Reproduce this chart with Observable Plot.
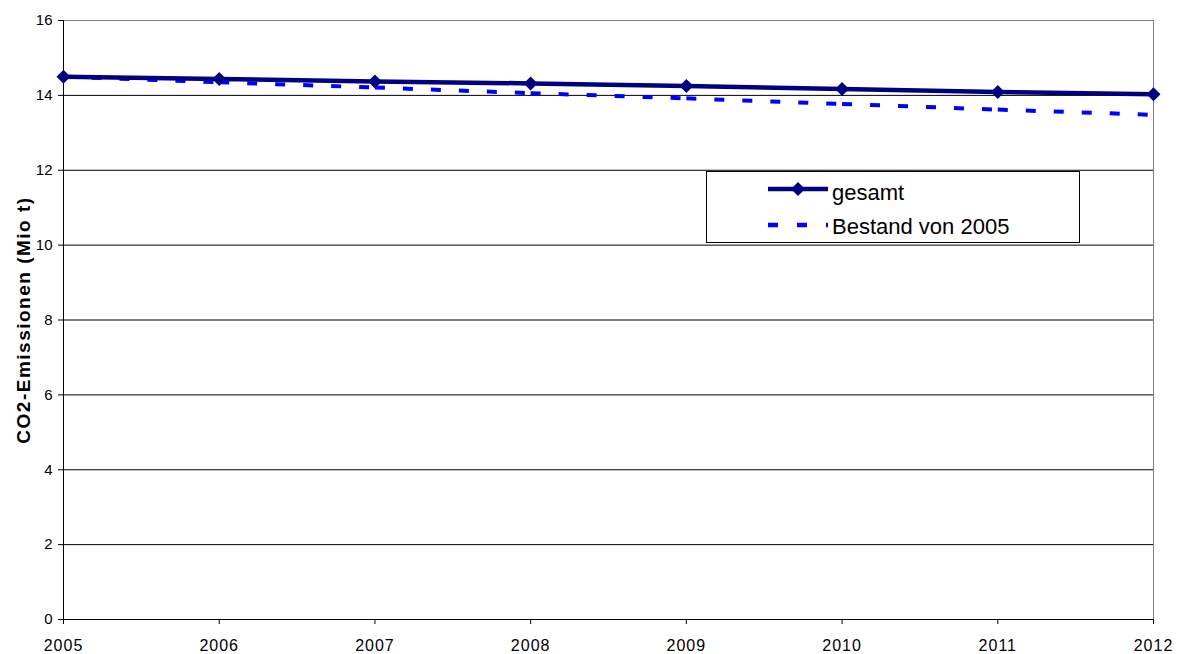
<!DOCTYPE html>
<html>
<head>
<meta charset="utf-8">
<script src="https://cdn.jsdelivr.net/npm/d3@7"></script>
<script src="https://cdn.jsdelivr.net/npm/@observablehq/plot@0.6"></script>
<style>
  html, body { margin: 0; padding: 0; background: #fff; }
  #wrap { position: relative; width: 1178px; height: 654px; }
  #legend { position: absolute; left: 0; top: 0; pointer-events: none; }
</style>
</head>
<body>
<div id="wrap"></div>
<script>
const years = [2005, 2006, 2007, 2008, 2009, 2010, 2011, 2012];
const gesamt = [14.50, 14.44, 14.37, 14.32, 14.25, 14.17, 14.09, 14.03];
const bestand = [14.50, 14.35, 14.21, 14.06, 13.92, 13.77, 13.62, 13.48];
const yTicks = [0, 2, 4, 6, 8, 10, 12, 14, 16];
const seriesNames = ["gesamt", "Bestand von 2005"];
const yLabel = "CO2-Emissionen (Mio t)";

const gesamtData = years.map((x, i) => ({x, y: gesamt[i]}));
const bestandSeg = years.slice(0, -1).map((x, i) => ({x1: x, y1: bestand[i], x2: years[i + 1], y2: bestand[i + 1]}));

const navy = "#000080";
const blue = "#0000ff";

const chart = Plot.plot({
  width: 1178,
  height: 654,
  marginLeft: 63,
  marginRight: 25,
  marginTop: 20,
  marginBottom: 35,
  style: {fontFamily: "'Liberation Sans', Arial, sans-serif", fontSize: "15px", color: "#000", background: "#fff"},
  x: {domain: [2005, 2012]},
  y: {domain: [0, 16]},
  marks: [
    Plot.gridY(yTicks.filter(d => d > 0 && d < 16), {stroke: "#000", strokeOpacity: 1, strokeWidth: 1}),
    Plot.ruleY([16], {stroke: "#808080", strokeWidth: 1}),
    Plot.ruleX([2012], {stroke: "#808080", strokeWidth: 1}),
    Plot.ruleX([2005], {stroke: "#000", strokeWidth: 1}),
    Plot.ruleY([0], {stroke: "#000", strokeWidth: 1}),
    Plot.axisX({ticks: years, tickFormat: d => String(d), tickSize: 5, tickPadding: 15, label: null, fontSize: 16, className: "xax"}),
    Plot.axisY({ticks: yTicks, tickFormat: d => String(d), tickSize: 5, tickPadding: 6, label: null, fontSize: 15}),
    Plot.text([yLabel], {frameAnchor: "left", textAnchor: "middle", rotate: -90, dx: -40, text: d => d, fontWeight: "bold", fontSize: 19, lineAnchor: "middle", className: "ylab"}),
    Plot.link(bestandSeg, {x1: "x1", y1: "y1", x2: "x2", y2: "y2", stroke: blue, strokeWidth: 4, strokeDasharray: "10,18"}),
    Plot.line(gesamtData, {x: "x", y: "y", stroke: navy, strokeWidth: 4.5}),
    Plot.dot(gesamtData, {x: "x", y: "y", symbol: "diamond2", r: 6.3, fill: navy, stroke: "none"})
  ]
});

d3.select(chart).selectAll(".ylab text").style("letter-spacing", "1.5px");
d3.select(chart).selectAll(".xax text").style("letter-spacing", "1px");

const wrap = document.getElementById("wrap");
wrap.appendChild(chart);

// legend (SVG overlay)
const lg = d3.create("svg").attr("id", "legend").attr("width", 1178).attr("height", 654);
lg.append("rect").attr("x", 706.5).attr("y", 171.5).attr("width", 373).attr("height", 71)
  .attr("fill", "#fff").attr("stroke", "#000").attr("stroke-width", 1);
lg.append("line").attr("x1", 768).attr("x2", 828).attr("y1", 189).attr("y2", 189)
  .attr("stroke", navy).attr("stroke-width", 4.5);
lg.append("path").attr("d", d3.symbol(d3.symbolDiamond2, Math.PI * 6.3 * 6.3)()).attr("transform", "translate(798,189)").attr("fill", navy);
lg.append("line").attr("x1", 768).attr("x2", 828).attr("y1", 225).attr("y2", 225)
  .attr("stroke", blue).attr("stroke-width", 4.5).attr("stroke-dasharray", "10,19");
lg.selectAll("text.lt").data(seriesNames).join("text")
  .attr("x", 832).attr("y", (d, i) => i === 0 ? 200 : 234)
  .attr("font-family", "'Liberation Sans', Arial, sans-serif").attr("font-size", 22)
  .attr("fill", "#000").text(d => d);
wrap.appendChild(lg.node());
</script>
</body>
</html>
